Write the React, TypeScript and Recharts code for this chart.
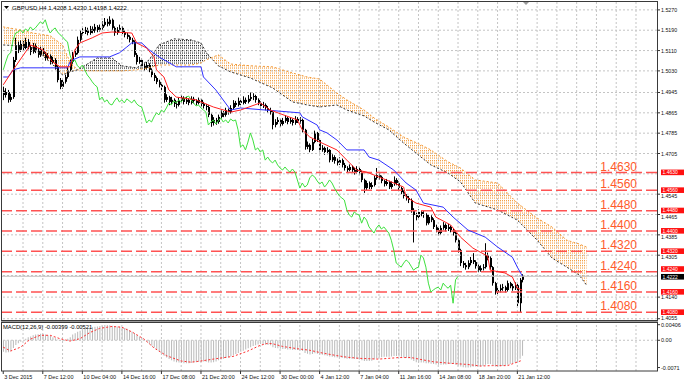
import React from "react";
import { ComposedChart, Bar, Line, Area, XAxis, YAxis, ReferenceLine } from "recharts";

const FONT = "'Liberation Sans', Arial, sans-serif";
const W = 685;
const SLOTS = 265; // 211 H4 bars + 26 bars of forward cloud + empty chart shift
const SHIFT = 26; // Ichimoku displacement

// GBPUSD H4 bars, 3 Dec 2015 .. 21 Jan 2016 (open = previous close)
const firstOpen = 1.4952;
const closes = [
  1.4935, 1.4947, 1.4916, 1.4927, 1.5073, 1.5132, 1.5113, 1.5136, 1.512, 1.5144,
  1.5124, 1.5105, 1.5128, 1.5113, 1.5093, 1.5113, 1.5097, 1.5081, 1.5089, 1.5065,
  1.5073, 1.5046, 1.4994, 1.4967, 1.4987, 1.5006, 1.5034, 1.5065, 1.5093, 1.5101,
  1.5152, 1.5179, 1.5183, 1.5191, 1.5179, 1.5195, 1.5187, 1.5203, 1.5191, 1.5199,
  1.5211, 1.5223, 1.5215, 1.5231, 1.5199, 1.5179, 1.5191, 1.5199, 1.5183, 1.5172,
  1.5164, 1.5152, 1.5144, 1.5093, 1.5065, 1.5073, 1.505, 1.5042, 1.5053, 1.5034,
  1.5014, 1.5002, 1.4987, 1.4975, 1.4967, 1.4916, 1.4927, 1.4908, 1.4916, 1.49,
  1.4896, 1.4912, 1.4924, 1.4908, 1.4916, 1.4904, 1.492, 1.4912, 1.4904, 1.4916,
  1.49, 1.4892, 1.4888, 1.4857, 1.4825, 1.4837, 1.4829, 1.4849, 1.4865, 1.4857,
  1.4876, 1.4868, 1.4884, 1.4904, 1.4896, 1.4912, 1.4904, 1.4916, 1.4908, 1.492,
  1.4927, 1.4931, 1.4916, 1.4904, 1.4892, 1.4896, 1.4884, 1.4876, 1.4868, 1.4817,
  1.4829, 1.4837, 1.4821, 1.4833, 1.4845, 1.4829, 1.4837, 1.4825, 1.4841, 1.4833,
  1.4837, 1.4798, 1.4731, 1.4739, 1.4719, 1.475, 1.4786, 1.4758, 1.4719, 1.4727,
  1.4711, 1.4719, 1.4679, 1.4691, 1.4676, 1.4668, 1.4679, 1.466, 1.4648, 1.464,
  1.4652, 1.464, 1.4632, 1.4644, 1.4632, 1.4601, 1.4569, 1.4589, 1.4573, 1.4581,
  1.4609, 1.462, 1.4613, 1.4597, 1.4585, 1.4593, 1.4573, 1.4585, 1.4601, 1.4589,
  1.4569, 1.4553, 1.4538, 1.453, 1.4522, 1.4483, 1.4463, 1.4455, 1.4475, 1.4467,
  1.4463, 1.4431, 1.4455, 1.4443, 1.4416, 1.4404, 1.4392, 1.4412, 1.4424, 1.4408,
  1.4416, 1.4404, 1.4392, 1.4364, 1.4325, 1.4274, 1.4266, 1.4258, 1.4274, 1.4286,
  1.4278, 1.4262, 1.4246, 1.4254, 1.4258, 1.4305, 1.4294, 1.4258, 1.4195, 1.416,
  1.4168, 1.4175, 1.4179, 1.4168, 1.4195, 1.4183, 1.4175, 1.4187, 1.4116, 1.4208,
  1.4222,
];
const highs = [
  1.4968, 1.4962, 1.4955, 1.494, 1.5085, 1.516, 1.5145, 1.515, 1.5148, 1.516,
  1.5155, 1.5132, 1.514, 1.5138, 1.512, 1.5125, 1.512, 1.5105, 1.51, 1.5095,
  1.5085, 1.508, 1.5052, 1.5002, 1.4998, 1.5015, 1.5045, 1.5075, 1.5105, 1.5115,
  1.5165, 1.519, 1.5198, 1.5203, 1.52, 1.5207, 1.5205, 1.5215, 1.521, 1.5212,
  1.5225, 1.5238, 1.5235, 1.5245, 1.5236, 1.5205, 1.5202, 1.5212, 1.5205, 1.519,
  1.518, 1.517, 1.516, 1.515, 1.51, 1.5085, 1.508, 1.5058, 1.5065, 1.506,
  1.504, 1.5022, 1.5008, 1.4995, 1.4985, 1.4972, 1.4938, 1.4932, 1.4928, 1.4922,
  1.491, 1.4925, 1.4935, 1.493, 1.4928, 1.4922, 1.493, 1.4928, 1.4918, 1.4925,
  1.492, 1.4908, 1.49, 1.4895, 1.4862, 1.4848, 1.4845, 1.4858, 1.4875, 1.4872,
  1.4885, 1.4882, 1.4895, 1.4915, 1.4912, 1.4925, 1.492, 1.493, 1.4925, 1.4935,
  1.4945, 1.4942, 1.4936, 1.4922, 1.491, 1.4908, 1.4902, 1.4892, 1.4885, 1.4872,
  1.484, 1.4848, 1.4842, 1.4845, 1.4856, 1.485, 1.4848, 1.4842, 1.4852, 1.4848,
  1.4848, 1.4842, 1.4802, 1.4752, 1.4745, 1.4762, 1.4795, 1.479, 1.4762, 1.4738,
  1.4732, 1.473, 1.4722, 1.4702, 1.4698, 1.4685, 1.469, 1.4685, 1.4668, 1.4655,
  1.4662, 1.4658, 1.4648, 1.4655, 1.465, 1.4638, 1.4606, 1.4598, 1.4595, 1.4592,
  1.4618, 1.4648, 1.4628, 1.4618, 1.4602, 1.4605, 1.4598, 1.4595, 1.4615, 1.4608,
  1.4595, 1.4575, 1.456, 1.4545, 1.4538, 1.4528, 1.449, 1.4472, 1.4485, 1.4482,
  1.448, 1.447, 1.4465, 1.4462, 1.445, 1.4425, 1.4412, 1.4422, 1.4435, 1.443,
  1.4428, 1.4422, 1.441, 1.4398, 1.437, 1.433, 1.4282, 1.4275, 1.4285, 1.4298,
  1.4313, 1.4285, 1.4268, 1.4265, 1.427, 1.4352, 1.4315, 1.43, 1.4262, 1.42,
  1.418, 1.419, 1.4192, 1.4185, 1.4205, 1.42, 1.4192, 1.4198, 1.4192, 1.4215,
  1.423,
];
const lows = [
  1.4915, 1.4925, 1.4905, 1.4908, 1.492, 1.5065, 1.51, 1.5105, 1.511, 1.5115,
  1.5115, 1.5092, 1.5098, 1.51, 1.5082, 1.5085, 1.5088, 1.507, 1.5072, 1.5055,
  1.5058, 1.5035, 1.4985, 1.4958, 1.496, 1.498, 1.5, 1.5028, 1.5058, 1.5085,
  1.5095, 1.5145, 1.5168, 1.5175, 1.517, 1.5172, 1.5178, 1.518, 1.5182, 1.5185,
  1.5192, 1.5205, 1.5205, 1.5208, 1.519, 1.5168, 1.5172, 1.5185, 1.5175, 1.5162,
  1.5155, 1.5142, 1.5135, 1.5085, 1.5055, 1.5058, 1.504, 1.503, 1.5035, 1.5025,
  1.5005, 1.499, 1.4978, 1.4965, 1.4955, 1.4905, 1.4908, 1.4895, 1.49, 1.4888,
  1.4882, 1.489, 1.4905, 1.4898, 1.49, 1.4895, 1.4898, 1.4902, 1.4895, 1.4898,
  1.489, 1.4882, 1.4875, 1.4848, 1.481, 1.4815, 1.4818, 1.4822, 1.4842, 1.4848,
  1.485, 1.4858, 1.4862, 1.4878, 1.4888, 1.489, 1.4895, 1.4898, 1.49, 1.4902,
  1.4912, 1.4915, 1.4905, 1.4895, 1.4882, 1.4884, 1.4875, 1.4865, 1.4858, 1.48,
  1.4808, 1.482, 1.481, 1.4815, 1.4826, 1.482, 1.4822, 1.4815, 1.4818, 1.4825,
  1.4822, 1.4788, 1.472, 1.4722, 1.471, 1.4715, 1.4745, 1.475, 1.471, 1.4712,
  1.47, 1.4702, 1.467, 1.4672, 1.4665, 1.4658, 1.466, 1.465, 1.4638, 1.463,
  1.4635, 1.463, 1.4622, 1.4625, 1.4622, 1.4592, 1.455, 1.456, 1.4565, 1.4565,
  1.4575, 1.4602, 1.4602, 1.4588, 1.4575, 1.4578, 1.4565, 1.4566, 1.4578, 1.458,
  1.456, 1.4545, 1.4528, 1.452, 1.451, 1.4472, 1.4355, 1.4442, 1.4448, 1.4458,
  1.4452, 1.4422, 1.4425, 1.4435, 1.4408, 1.4395, 1.4382, 1.4385, 1.4405, 1.4398,
  1.44, 1.4395, 1.4382, 1.4355, 1.4315, 1.4262, 1.4255, 1.4248, 1.425, 1.4265,
  1.427, 1.4252, 1.4238, 1.424, 1.4245, 1.4252, 1.4285, 1.4248, 1.4185, 1.415,
  1.4152, 1.4158, 1.4165, 1.4158, 1.4162, 1.4175, 1.4165, 1.4168, 1.4105, 1.4079,
  1.4198,
];

// Ichimoku lines: [bar, price]
const tenkan: [number, number][] = [
  [0, 1.4975], [4, 1.5034], [11, 1.5132], [16, 1.5113], [20, 1.5065], [23, 1.5046],
  [27, 1.5046], [29, 1.5113], [31, 1.514], [36, 1.516], [40, 1.5179], [44, 1.5183],
  [52, 1.5179], [54, 1.514], [58, 1.512], [61, 1.5085], [62, 1.5034], [65, 1.5006],
  [67, 1.4955], [70, 1.4927], [78, 1.4916], [85, 1.4888], [92, 1.4868], [96, 1.4876],
  [104, 1.4904], [108, 1.4876], [119, 1.4837], [121, 1.4798], [124, 1.477], [129, 1.4746],
  [135, 1.4719], [139, 1.4679], [143, 1.464], [147, 1.4632], [155, 1.4601], [162, 1.4573],
  [163, 1.4534], [167, 1.451], [173, 1.4494], [175, 1.4455], [181, 1.4424], [185, 1.4376],
  [190, 1.4333], [196, 1.4301], [197, 1.4246], [203, 1.4235], [206, 1.4219], [208, 1.4175],
  [210, 1.4168],
];
const kijun: [number, number][] = [
  [0, 1.5006], [2, 1.5006], [4, 1.5034], [7, 1.5042], [26, 1.5042], [27, 1.5065],
  [28, 1.5073], [31, 1.5085], [43, 1.5085], [47, 1.5101], [50, 1.5124], [52, 1.514],
  [56, 1.514], [59, 1.5113], [63, 1.5085], [70, 1.5046], [80, 1.5046], [81, 1.5006],
  [86, 1.4955], [92, 1.4876], [96, 1.4884], [120, 1.4865], [121, 1.4849], [127, 1.4817],
  [128, 1.4798], [131, 1.4786], [135, 1.4758], [139, 1.4719], [146, 1.4719], [148, 1.4691],
  [152, 1.4679], [158, 1.464], [161, 1.4609], [163, 1.4589], [167, 1.4561], [170, 1.451],
  [178, 1.4494], [182, 1.4455], [188, 1.4404], [195, 1.4376], [200, 1.4337], [206, 1.4297],
  [208, 1.4258], [210, 1.4223],
];

// Kumo (already shifted 26 bars forward)
const kumoBars = [
  0, 7, 12, 19, 24, 27, 30, 34, 38, 44, 48, 54, 59, 63, 69, 76, 80, 82, 84, 87,
  92, 100, 109, 117, 123, 128, 135, 139, 146, 150, 156, 162, 169, 173, 180, 185, 191, 200, 208, 216,
  222, 228, 233, 236,
];
const spanOrange = [
  1.5203, 1.5191, 1.5179, 1.5168, 1.5132, 1.5065, 1.5034, 1.503, 1.503, 1.503,
  1.503, 1.5034, 1.5042, 1.5053, 1.5053, 1.5053, 1.5061, 1.5073, 1.5081, 1.5093,
  1.5057, 1.505, 1.5046, 1.5022, 1.5006, 1.4998, 1.4943, 1.4916, 1.4876, 1.4845,
  1.4809, 1.477, 1.4739, 1.4719, 1.4672, 1.4648, 1.4601, 1.4589, 1.451, 1.4451,
  1.4416, 1.4364, 1.4349, 1.4337,
];
const spanDark = [
  1.5132, 1.5128, 1.512, 1.5065, 1.5014, 1.5026, 1.5034, 1.5057, 1.5081, 1.5081,
  1.505, 1.5042, 1.5073, 1.5132, 1.5156, 1.5152, 1.514, 1.5105, 1.5081, 1.505,
  1.5026, 1.5002, 1.4963, 1.4908, 1.4896, 1.4888, 1.4896, 1.4876, 1.4853, 1.4829,
  1.4798, 1.4746, 1.4691, 1.466, 1.4628, 1.4593, 1.451, 1.4483, 1.4443, 1.4364,
  1.4294, 1.4258, 1.4227, 1.4187,
];

// MACD(12,26,9): main per bar, signal read as [bar, value]
const macdMain = [
  -0.003, -0.0032, -0.0031, -0.0028, -0.002, -0.0012, -0.0008, -0.0004, 0, 0.0004,
  0.0008, 0.001, 0.0013, 0.0015, 0.0016, 0.0017, 0.0016, 0.0015, 0.0013, 0.0012,
  0.0008, 0.0005, 0.0002, -0.0001, -0.0002, 0, 0.0004, 0.0008, 0.0015, 0.0018,
  0.0022, 0.0025, 0.0028, 0.003, 0.0031, 0.0033, 0.0034, 0.0035, 0.0036, 0.0037,
  0.0038, 0.004, 0.004, 0.0039, 0.0038, 0.0037, 0.0036, 0.0035, 0.0034, 0.0032,
  0.003, 0.0026, 0.0022, 0.0018, 0.0013, 0.0009, 0.0005, 0.0001, -0.0004, -0.0009,
  -0.0014, -0.0019, -0.0024, -0.0029, -0.0034, -0.004, -0.0045, -0.0049, -0.0052, -0.0055,
  -0.0057, -0.0058, -0.0059, -0.006, -0.006, -0.006, -0.0059, -0.0058, -0.0057, -0.0056,
  -0.0055, -0.0055, -0.0056, -0.0058, -0.0058, -0.0057, -0.0055, -0.0052, -0.005, -0.0048,
  -0.0046, -0.0044, -0.0042, -0.0039, -0.0036, -0.0033, -0.003, -0.0027, -0.0024, -0.0021,
  -0.0018, -0.0015, -0.0013, -0.0011, -0.001, -0.001, -0.0011, -0.0012, -0.0013, -0.0018,
  -0.002, -0.0021, -0.0022, -0.0023, -0.0023, -0.0024, -0.0024, -0.0025, -0.0025, -0.0025,
  -0.0026, -0.0028, -0.0033, -0.0035, -0.0037, -0.0036, -0.0034, -0.0035, -0.0037, -0.0038,
  -0.0039, -0.004, -0.0042, -0.0043, -0.0044, -0.0045, -0.0045, -0.0046, -0.0047, -0.0048,
  -0.0048, -0.0048, -0.0049, -0.0049, -0.005, -0.0052, -0.0054, -0.0054, -0.0054, -0.0053,
  -0.005, -0.0047, -0.0045, -0.0044, -0.0043, -0.0043, -0.0043, -0.0042, -0.0041, -0.0041,
  -0.0042, -0.0043, -0.0045, -0.0046, -0.0047, -0.005, -0.0054, -0.0057, -0.0058, -0.0058,
  -0.0058, -0.006, -0.006, -0.0061, -0.0062, -0.0063, -0.0064, -0.0064, -0.0063, -0.0063,
  -0.0062, -0.0062, -0.0062, -0.0064, -0.0066, -0.0068, -0.007, -0.0071, -0.0071, -0.007,
  -0.0069, -0.0068, -0.0068, -0.0068, -0.0067, -0.0064, -0.0062, -0.0062, -0.0065, -0.0068,
  -0.0069, -0.0068, -0.0067, -0.0066, -0.0064, -0.0062, -0.006, -0.0058, -0.0058, -0.0048,
  -0.004,
];
const macdSignal: [number, number][] = [
  [0, -0.0018], [3, -0.0028], [7, -0.0018], [11, 0.0003], [15, 0.0013], [19, 0.0013],
  [23, 0.0004], [27, -0.0002], [31, 0.0004], [35, 0.002], [39, 0.0031], [44, 0.0036],
  [48, 0.0034], [52, 0.0022], [57, 0.0003], [61, -0.002], [66, -0.004], [72, -0.0054],
  [76, -0.0057], [80, -0.0054], [86, -0.0048], [93, -0.0042], [99, -0.0028], [104, -0.0013],
  [107, -0.0008], [109, -0.0009], [113, -0.0016], [119, -0.0022], [124, -0.0026], [129, -0.0033],
  [135, -0.004], [139, -0.0044], [144, -0.0047], [152, -0.0049], [160, -0.0045], [165, -0.0045],
  [169, -0.005], [174, -0.0056], [181, -0.006], [188, -0.0063], [193, -0.0067], [198, -0.0066],
  [204, -0.0066], [210, -0.0052],
];

const levels = [1.463, 1.456, 1.448, 1.44, 1.432, 1.424, 1.416, 1.408];
const gridPrices = [
  1.527, 1.519, 1.511, 1.503, 1.4945, 1.4865, 1.4785, 1.4705,
  1.4625, 1.4545, 1.4465, 1.4385, 1.4305, 1.4225, 1.414, 1.4055,
];
const axisPrices = [
  1.527, 1.519, 1.511, 1.503, 1.4945, 1.4865, 1.4785, 1.4705,
  1.4545, 1.4465, 1.4385, 1.4305, 1.414, 1.4055,
];
const lastPrice = 1.4222;
const gridSlots = [
  8, 16, 24, 32, 40, 48, 56, 64, 72, 80, 88, 96, 104, 112, 120, 128,
  136, 144, 152, 160, 168, 176, 184, 192, 200, 208, 216, 224, 232, 240, 248, 256,
];
const timeSlots = [0, 16, 32, 48, 64, 80, 96, 112, 128, 144, 160, 176, 192, 208];
const timeLabels = [
  "3 Dec 2015", "7 Dec 12:00", "10 Dec 04:00", "14 Dec 16:00", "17 Dec 08:00",
  "21 Dec 20:00", "24 Dec 12:00", "30 Dec 00:00", "4 Jan 12:00", "7 Jan 04:00",
  "11 Jan 16:00", "14 Jan 08:00", "18 Jan 20:00", "21 Jan 12:00",
];
const macdTicks = [0.00406, 0, -0.0071];
const macdTickLabels = ["0.00406", "0.00", "-0.0071"];

// one row per bar slot
const rows: any[] = Array.from({ length: SLOTS }, (_, i) => ({ i }));
closes.forEach((close, i) => {
  const r = rows[i];
  r.open = i === 0 ? firstOpen : closes[i - 1];
  r.close = close;
  r.high = highs[i];
  r.low = lows[i];
  r.range = [lows[i], highs[i]];
  r.macd = macdMain[i];
  if (i >= SHIFT) rows[i - SHIFT].chikou = close;
});
tenkan.forEach(([b, v]) => (rows[b].tenkan = v));
kijun.forEach(([b, v]) => (rows[b].kijun = v));
macdSignal.forEach(([b, v]) => (rows[b].signal = v));

// split the cloud where the two spans cross
const kumoSegs: { key: string; dark: boolean }[] = [];
let cur: { key: string; dark: boolean } | null = null;
kumoBars.forEach((b, k) => {
  const o = spanOrange[k];
  const d = spanDark[k];
  rows[b].spanO = o;
  rows[b].spanD = d;
  const band = [Math.min(o, d), Math.max(o, d)];
  if (!cur || (o !== d && cur.dark !== d > o)) {
    cur = { key: `kumo${kumoSegs.length}`, dark: d > o };
    kumoSegs.push(cur);
  }
  rows[b][cur.key] = band;
  if (o === d && k < kumoBars.length - 1) {
    const nextDark = spanDark[k + 1] > spanOrange[k + 1];
    if (nextDark !== cur.dark) {
      cur = { key: `kumo${kumoSegs.length}`, dark: nextDark };
      kumoSegs.push(cur);
      rows[b][cur.key] = band;
    }
  }
});

function Candle(props: any) {
  const { x, y, width, height, payload } = props;
  if (!payload || payload.high == null) return null;
  const top = Math.min(y, y + height);
  const h = Math.abs(height);
  const span = payload.high - payload.low || 1e-9;
  const at = (v: number) => top + ((payload.high - v) / span) * h;
  const c = Math.round(x + width / 2);
  const yo = at(payload.open);
  const yc = at(payload.close);
  return (
    <g>
      <line x1={c + 0.5} x2={c + 0.5} y1={top} y2={top + h} stroke="#000" />
      <rect x={c} y={Math.min(yo, yc)} width={2} height={Math.max(1, Math.abs(yc - yo))} fill="#000" />
    </g>
  );
}

// gray price labels sitting just under a level box are pushed down a little, as in MT4
function PriceTick({ x, y, payload }: any) {
  const p = payload.value;
  const under = levels.some((l) => l - p > 0 && l - p < 0.0016);
  const dy = under ? 4.2 : p < 1.407 ? 1.3 : 2;
  return (
    <g>
      <line x1={x} x2={x + 3} y1={y} y2={y} stroke="#333" />
      <text x={x + 4} y={y + dy} fontSize={5.3} fill="#111" fontFamily={FONT}>
        {p.toFixed(4)}
      </text>
    </g>
  );
}

function MacdTick({ x, y, payload, index }: any) {
  return (
    <g>
      <line x1={x} x2={x + 3} y1={y} y2={y} stroke="#333" />
      <text x={x + 4} y={y + 2} fontSize={5.5} fill="#111" fontFamily={FONT}>
        {macdTickLabels[index] ?? payload.value}
      </text>
    </g>
  );
}

function TimeTick({ x, y, payload }: any) {
  const k = timeSlots.indexOf(payload.value);
  return (
    <g>
      <line x1={x} x2={x} y1={y} y2={y + 3} stroke="#333" />
      <text x={x + 1} y={y + 8} fontSize={5.5} fill="#111" fontFamily={FONT}>
        {timeLabels[k]}
      </text>
    </g>
  );
}

function LevelLabel({ viewBox, price }: any) {
  if (!viewBox) return null;
  const { x, y, width } = viewBox;
  const txt = price.toFixed(4);
  // the box right above the bid box is lifted so both stay readable
  const lift = price > lastPrice && price - lastPrice < 0.0025 ? 2.5 : 0;
  return (
    <g>
      <text x={x + width - 20} y={y - 2} textAnchor="end" fontSize={12} fill="#ff5a2a" fontFamily={FONT}>
        {txt}
      </text>
      <rect x={x + width + 4} y={y - 3 - lift} width={23} height={5.6} fill="#ff1010" />
      <text x={x + width + 5.5} y={y + 1.8 - lift} fontSize={5} fill="#fff" fontFamily={FONT}>
        {txt}
      </text>
    </g>
  );
}

function BidLabel({ viewBox, price }: any) {
  if (!viewBox) return null;
  const { x, y, width } = viewBox;
  return (
    <g>
      <rect x={x + width + 4} y={y - 2.3} width={23} height={5.6} fill="#000" />
      <text x={x + width + 5.5} y={y + 2.5} fontSize={5} fill="#fff" fontFamily={FONT}>
        {price.toFixed(4)}
      </text>
    </g>
  );
}

const gridStroke = "#c4c4c4";

export default function App() {
  const last = rows[closes.length - 1];
  const header = `GBPUSD,H4 ${last.open.toFixed(4)} ${last.high.toFixed(4)} ${last.low.toFixed(4)} ${last.close.toFixed(4)}`;
  return (
    <div style={{ position: "absolute", left: 0, top: 0, width: W, height: 386, background: "#fff" }}>
      <ComposedChart width={W} height={321} data={rows} margin={{ top: 2, right: 0, bottom: 1, left: 2 }}>
        <defs>
          <pattern id="kumoOrange" width={2} height={2.5} patternUnits="userSpaceOnUse">
            <rect width={1} height={1.2} fill="#f39a38" />
          </pattern>
          <pattern id="kumoDark" width={2} height={2.5} patternUnits="userSpaceOnUse">
            <rect width={1} height={1.2} fill="#222" />
          </pattern>
        </defs>
        <XAxis dataKey="i" hide />
        <YAxis
          orientation="right"
          width={28}
          type="number"
          domain={[1.405, 1.5301]}
          allowDataOverflow
          ticks={axisPrices}
          interval={0}
          tick={<PriceTick />}
          tickLine={false}
          axisLine={false}
          tickSize={0}
          tickMargin={0}
        />
        {gridSlots.map((s) => (
          <ReferenceLine key={`v${s}`} x={s} stroke={gridStroke} strokeDasharray="2 2" />
        ))}
        {gridPrices.map((p) => (
          <ReferenceLine key={`h${p}`} y={p} stroke={gridStroke} strokeDasharray="2 2" />
        ))}
        {kumoSegs.map((s) => (
          <Area
            key={s.key}
            dataKey={s.key}
            type="linear"
            stroke="none"
            fill={s.dark ? "url(#kumoDark)" : "url(#kumoOrange)"}
            fillOpacity={1}
            connectNulls
            dot={false}
            activeDot={false}
            isAnimationActive={false}
          />
        ))}
        <Line dataKey="spanO" stroke="#f39a38" strokeDasharray="2 2" dot={false} connectNulls isAnimationActive={false} />
        <Line dataKey="spanD" stroke="#333" strokeDasharray="2 2" dot={false} connectNulls isAnimationActive={false} />
        <ReferenceLine y={lastPrice} stroke="#c0c0c0" label={<BidLabel price={lastPrice} />} />
        {levels.map((v) => (
          <ReferenceLine
            key={`l${v}`}
            y={v}
            stroke="#ff5252"
            strokeWidth={1.5}
            strokeDasharray="11 4"
            label={<LevelLabel price={v} />}
          />
        ))}
        <Bar dataKey="range" barSize={2} isAnimationActive={false} shape={(p: any) => <Candle {...p} />} />
        <Line dataKey="chikou" stroke="#3ee03e" dot={false} isAnimationActive={false} />
        <Line dataKey="kijun" stroke="#3030ff" dot={false} connectNulls isAnimationActive={false} />
        <Line dataKey="tenkan" stroke="#ff2020" dot={false} connectNulls isAnimationActive={false} />
      </ComposedChart>

      <div style={{ position: "absolute", left: 0, top: 322 }}>
        <ComposedChart width={W} height={64} data={rows} margin={{ top: 1, right: 0, bottom: 0, left: 2 }}>
          <XAxis
            dataKey="i"
            ticks={timeSlots}
            interval={0}
            tick={<TimeTick />}
            tickLine={false}
            axisLine={false}
            tickSize={0}
            tickMargin={0}
            height={15}
          />
          <YAxis
            orientation="right"
            width={28}
            type="number"
            domain={[-0.008, 0.0045]}
            allowDataOverflow
            ticks={macdTicks}
            interval={0}
            tick={<MacdTick />}
            tickLine={false}
            axisLine={false}
            tickSize={0}
            tickMargin={0}
          />
          {gridSlots.map((s) => (
            <ReferenceLine key={`mv${s}`} x={s} stroke={gridStroke} strokeDasharray="2 2" />
          ))}
          <ReferenceLine y={0} stroke={gridStroke} strokeDasharray="2 2" />
          <Bar dataKey="macd" barSize={1} fill="#b9b9b9" isAnimationActive={false} />
          <Line dataKey="signal" stroke="#ff3030" strokeDasharray="2 2" dot={false} connectNulls isAnimationActive={false} />
        </ComposedChart>
      </div>

      <svg width={W} height={386} style={{ position: "absolute", left: 0, top: 0, pointerEvents: "none" }}>
        <rect x={1.5} y={1.5} width={656} height={319} fill="none" stroke="#3a3a3a" />
        <rect x={1.5} y={322.5} width={656} height={48.5} fill="none" stroke="#3a3a3a" />
        <line x1={1} x2={658} y1={321.5} y2={321.5} stroke="#9a9a9a" />
        <polygon points="4,6 9,6 6.5,9" fill="#000" />
        <text x={12} y={9.5} fontSize={6} fill="#000" fontFamily={FONT}>
          {header}
        </text>
        <polygon points="523,2 529,2 526,5" fill="#9a9a9a" />
        <text x={3} y={328.5} fontSize={5.8} fill="#000" fontFamily={FONT}>
          MACD(12,26,9) -0.00399 -0.00521
        </text>
      </svg>
    </div>
  );
}
